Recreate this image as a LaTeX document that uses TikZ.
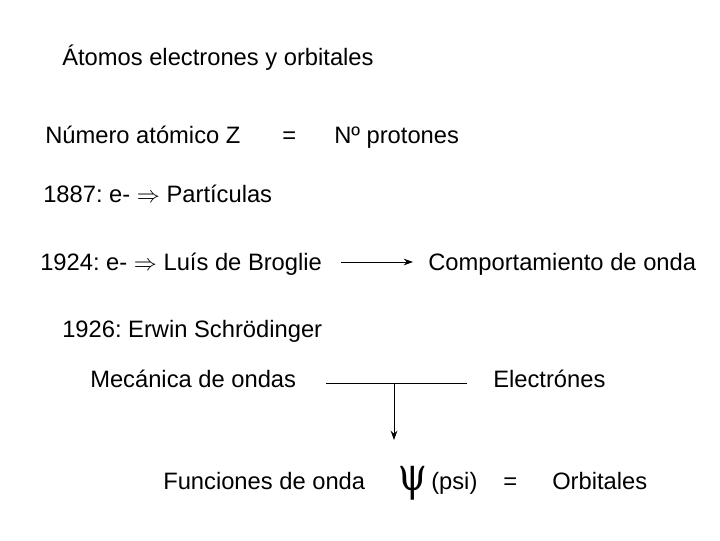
\documentclass[tikz,border=0pt]{standalone}
\usepackage{fontspec}
\usetikzlibrary{arrows.meta}
\setmainfont{Liberation Sans}
\newfontfamily\psifont{DejaVu Serif}
\begin{document}
\frenchspacing
\begin{tikzpicture}[x=0.75pt,y=-0.75pt,
  txt/.style={anchor=base west,inner sep=0pt,font=\fontsize{17.8}{20}\selectfont},
  conn/.style={line width=0.75pt},
  arr/.style={line width=0.75pt,-{Stealth[length=7pt,width=5pt]}}]
\useasboundingbox (0,0) rectangle (720,540);
\node[txt] (title) at (62,65) {Átomos electrones y orbitales};
\node[txt] (num) at (45,143) {Número atómico Z};
\node[txt] (eq1) at (282,143) {=};
\node[txt] (prot) at (334,143) {Nº protones};
\node[txt] (y1887) at (43,202) {1887: e- $\Rightarrow$ Partículas};
\node[txt] (y1924) at (40,270) {1924: e- $\Rightarrow$ Luís de Broglie};
\node[txt] (comp) at (428,270) {Comportamiento de onda};
\node[txt] (y1926) at (62,337) {1926: Erwin Schrödinger};
\node[txt] (mec) at (90,387) {Mecánica de ondas};
\node[txt] (elec) at (493,387) {Electrónes};
\node[txt] (fun) at (163,489) {Funciones de onda};
\node[anchor=base west,inner sep=0pt,xscale=0.78,font=\psifont\fontsize{35}{38}\selectfont] (psi) at (398,490) {ψ};
\node[txt] (psit) at (431,489) {(psi)};
\node[txt] (eq2) at (503,489) {=};
\node[txt] (orb) at (552,489) {Orbitales};
\coordinate (a1) at (341,262);
\coordinate (a2) at (413,262);
\draw[arr] (a1) -- (a2);
\coordinate (l1) at (326,383);
\coordinate (l2) at (467,383);
\coordinate (lm) at (394,383);
\coordinate (ld) at (394,440);
\draw[conn] (l1) -- (l2);
\draw[arr] (lm) -- (ld);
\end{tikzpicture}
\end{document}
